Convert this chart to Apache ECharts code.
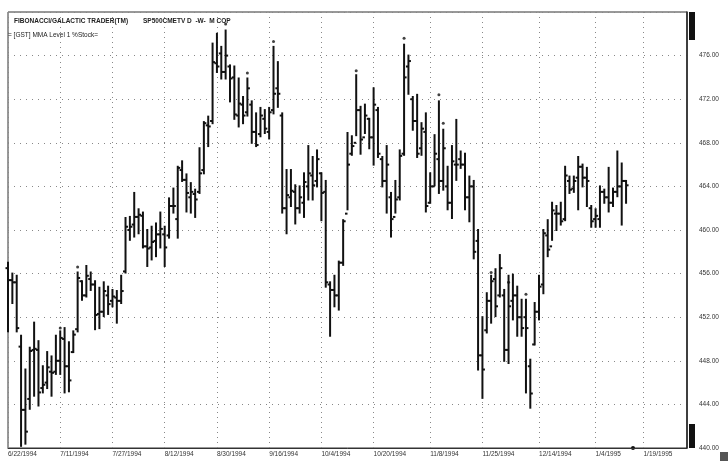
<!DOCTYPE html>
<html>
<head>
<meta charset="utf-8">
<script src="https://cdn.jsdelivr.net/npm/echarts@6.0.0/dist/echarts.min.js"></script>
<style>
  html, body { margin: 0; padding: 0; background: #fff; }
  #chart { width: 728px; height: 461px; }
</style>
</head>
<body>
<div id="chart"></div>
<script>
// Daily S&P 500 bars, 6/22/1994 onwards (trading days only)
const startDay = [1994, 5, 22];
const holidays = ['1994-07-04', '1994-09-05', '1994-11-24', '1994-12-26', '1995-01-02'];
const axisDays = 157;

const tickLabels = ['6/22/1994', '7/11/1994', '7/27/1994', '8/12/1994', '8/30/1994', '9/16/1994',
  '10/4/1994', '10/20/1994', '11/8/1994', '11/25/1994', '12/14/1994', '1/4/1995', '1/19/1995'];

const opens = [
  456.5, 455.4, 455.2, 449.3, 443.5, 444.5, 449.0, 449.0, 445.5, 446.0,
  447.0, 447.0, 448.0, 450.0, 447.5, 448.8, 450.9, 455.3, 454.0, 455.5,
  455.0, 452.3, 452.5, 454.0, 453.5, 453.8, 453.5, 456.2, 460.0, 460.5,
  461.2, 461.3, 458.5, 458.4, 459.0, 459.6, 459.6, 459.5, 462.2, 461.0,
  465.5, 464.6, 463.0, 463.3, 463.5, 465.5, 469.6, 470.0, 475.3, 476.2,
  474.5, 475.0, 474.0, 470.5, 471.5, 470.8, 471.5, 469.0, 468.8, 470.2,
  469.0, 471.0, 473.0, 470.5, 462.0, 463.0, 463.5, 462.0, 462.5, 464.0,
  465.0, 464.5, 465.2, 463.5, 455.0, 454.5, 454.0, 457.0, 461.5, 467.0,
  468.0, 471.0, 468.5, 470.2, 468.5, 471.0, 466.5, 464.5, 463.0, 461.2,
  463.0, 467.0, 475.0, 472.0, 470.0, 467.5, 469.0, 462.5, 464.0, 466.5,
  464.5, 464.0, 462.5, 466.0, 466.5, 466.0, 463.0, 464.0, 459.0, 448.5,
  450.8, 453.5, 455.5, 454.0, 454.0, 449.0, 453.5, 454.0, 452.0, 452.0,
  447.5, 449.5, 452.5, 455.0, 459.5, 458.5, 461.5, 461.5, 461.0, 464.5,
  463.8, 464.8, 465.8, 464.8, 462.0, 461.0, 461.0, 463.5, 463.0, 462.5,
  463.5, 464.0, 464.5
];
const highs = [
  457.0, 456.0, 455.8, 450.3, 447.2, 449.2, 451.5, 449.8, 447.5, 448.8,
  448.4, 450.3, 450.7, 451.0, 449.7, 450.7, 456.1, 455.3, 456.7, 456.1,
  455.3, 454.7, 455.2, 454.8, 454.5, 454.4, 455.8, 461.1, 461.2, 463.4,
  461.9, 461.6, 460.0, 460.3, 460.6, 461.6, 460.3, 462.9, 463.8, 465.8,
  466.3, 465.1, 464.3, 463.7, 467.5, 469.9, 470.4, 477.1, 478.0, 476.8,
  478.3, 475.1, 475.0, 473.9, 472.2, 473.9, 471.8, 470.7, 471.2, 471.0,
  471.2, 476.8, 475.4, 470.7, 465.5, 465.5, 464.1, 464.0, 465.2, 467.7,
  466.7, 467.3, 465.2, 464.5, 455.2, 455.8, 457.1, 460.9, 468.9, 468.6,
  474.2, 471.3, 471.5, 470.2, 473.0, 471.2, 466.7, 467.7, 463.4, 464.5,
  467.3, 477.0, 476.0, 472.2, 472.4, 469.8, 470.7, 465.2, 468.7, 471.8,
  469.2, 465.8, 467.7, 470.1, 467.2, 467.0, 464.9, 464.5, 460.0, 452.0,
  454.2, 455.8, 456.4, 457.7, 454.5, 455.8, 455.9, 454.8, 453.6, 453.6,
  448.1, 453.3, 455.8, 460.0, 460.9, 462.5, 462.2, 462.5, 465.8, 464.9,
  464.9, 466.7, 466.0, 465.7, 462.2, 461.9, 464.0, 463.7, 465.7, 463.8,
  467.2, 466.1, 464.5
];
const lows = [
  450.7, 453.3, 450.7, 440.2, 440.4, 443.6, 444.8, 443.9, 445.1, 445.5,
  444.8, 446.8, 446.8, 445.1, 445.2, 448.8, 450.7, 453.6, 453.9, 454.5,
  450.9, 451.0, 452.1, 452.3, 453.0, 451.5, 453.3, 456.1, 459.1, 459.4,
  459.7, 458.4, 456.7, 457.3, 457.6, 458.4, 456.7, 459.3, 461.6, 459.3,
  464.5, 461.7, 461.6, 461.2, 463.4, 465.2, 467.7, 469.8, 474.5, 473.9,
  473.9, 471.8, 470.2, 469.5, 469.8, 470.5, 468.0, 467.7, 468.6, 468.9,
  468.4, 470.7, 471.3, 461.6, 459.7, 462.2, 460.6, 461.6, 461.2, 462.8,
  462.8, 464.0, 460.9, 454.8, 450.3, 453.0, 452.7, 456.8, 461.9, 466.9,
  468.7, 467.0, 468.9, 467.5, 466.0, 466.7, 464.0, 461.6, 459.4, 461.6,
  462.8, 466.9, 472.5, 469.2, 466.7, 466.9, 461.7, 462.5, 464.1, 463.4,
  463.7, 461.9, 461.1, 464.6, 465.7, 461.9, 460.8, 457.4, 447.2, 444.6,
  450.6, 451.5, 452.1, 453.9, 448.0, 447.8, 451.8, 450.3, 450.3, 445.1,
  443.7, 449.5, 451.8, 454.2, 457.6, 459.1, 460.0, 460.5, 460.9, 463.4,
  463.5, 461.9, 464.0, 462.2, 460.3, 460.3, 460.3, 462.5, 461.7, 462.2,
  463.1, 460.5, 462.5
];
const closes = [
  455.4, 455.2, 451.0, 443.5, 441.5, 448.9, 449.1, 445.1, 445.8, 447.4,
  446.9, 448.0, 450.1, 447.5, 446.2, 450.4, 455.6, 454.0, 455.8, 455.0,
  452.2, 452.5, 454.4, 453.2, 453.9, 453.5, 454.4, 460.3, 460.3, 461.2,
  461.4, 458.5, 458.3, 458.9, 459.6, 460.1, 458.4, 462.2, 462.2, 465.7,
  464.6, 463.4, 463.5, 462.8, 465.2, 469.8, 469.5, 475.4, 475.0, 474.5,
  476.0, 473.9, 470.6, 471.6, 470.5, 473.0, 469.0, 467.8, 470.5, 469.3,
  470.8, 472.5, 472.5, 462.0, 463.2, 463.6, 462.0, 463.0, 464.4, 465.2,
  464.1, 466.5, 463.4, 455.2, 454.5, 454.0, 457.0, 460.8, 466.0, 467.7,
  471.0, 468.3, 470.5, 468.5, 471.5, 467.0, 464.5, 466.0, 461.0, 462.8,
  466.8, 474.0, 475.5, 470.0, 467.0, 469.3, 462.2, 464.0, 467.0, 464.5,
  467.5, 462.5, 466.3, 466.0, 466.0, 463.0, 464.0, 458.0, 448.5, 447.2,
  453.5, 455.3, 453.0, 456.5, 449.0, 453.0, 454.0, 452.0, 451.0, 451.0,
  445.0, 452.5, 454.8, 459.7, 458.2, 461.8, 461.5, 460.8, 465.0, 463.7,
  464.5, 465.8, 464.8, 464.5, 460.8, 461.3, 463.5, 463.0, 462.5, 463.5,
  464.0, 464.5, 464.1
];

// small dots printed above some bars: [bar index, price]
const markIdx = [12, 16, 50, 55, 61, 80, 91, 99, 100, 111, 115, 119];
const markVal = [451.0, 456.6, 478.9, 474.4, 477.3, 474.6, 477.6, 472.4, 469.8, 456.1, 455.2, 454.1];

// build the trading-day calendar for the category axis
const dates = [];
const d = new Date(Date.UTC(startDay[0], startDay[1], startDay[2]));
while (dates.length < axisDays) {
  const dow = d.getUTCDay();
  const iso = d.toISOString().slice(0, 10);
  if (dow !== 0 && dow !== 6 && !holidays.includes(iso)) {
    dates.push((d.getUTCMonth() + 1) + '/' + d.getUTCDate() + '/' + d.getUTCFullYear());
  }
  d.setUTCDate(d.getUTCDate() + 1);
}

const bars = opens.map((o, i) => [i, o, highs[i], lows[i], closes[i]]);
const marks = markIdx.map((i, k) => [i, markVal[k]]);
const showTick = (index, value) => tickLabels.includes(value);

function renderBar(params, api) {
  const i = api.value(0);
  const pO = api.coord([i, api.value(1)]);
  const pH = api.coord([i, api.value(2)]);
  const pL = api.coord([i, api.value(3)]);
  const pC = api.coord([i, api.value(4)]);
  const st = { stroke: '#111', lineWidth: 2 };
  return {
    type: 'group',
    children: [
      { type: 'line', shape: { x1: pH[0], y1: pH[1] - 1, x2: pL[0], y2: pL[1] + 1 }, style: st },
      { type: 'line', shape: { x1: pO[0] - 2.5, y1: pO[1], x2: pO[0], y2: pO[1] }, style: st },
      { type: 'line', shape: { x1: pC[0], y1: pC[1], x2: pC[0] + 2.5, y2: pC[1] }, style: st }
    ]
  };
}

const chart = echarts.init(document.getElementById('chart'));
const font = 'Liberation Sans';

chart.setOption({
  backgroundColor: '#fff',
  animation: false,
  textStyle: { fontFamily: font },
  title: [
    { text: 'FIBONACCI/GALACTIC TRADER(TM)', left: 9, top: 13,
      textStyle: { fontSize: 6.5, fontWeight: 'bold', color: '#222' } },
    { text: 'SP500CMETV D  -W-  M COP', left: 138, top: 13,
      textStyle: { fontSize: 6.5, fontWeight: 'bold', color: '#222' } },
    { text: '= [GST] MMA Level 1 %Stock=', left: 3, top: 27,
      textStyle: { fontSize: 6.5, fontWeight: 'normal', color: '#222' } }
  ],
  grid: { left: 8, right: 41, top: 12, bottom: 13, show: true, borderColor: '#333', borderWidth: 1 },
  xAxis: {
    type: 'category',
    data: dates,
    boundaryGap: false,
    axisLine: { lineStyle: { color: '#333' } },
    axisTick: { show: false },
    axisLabel: {
      interval: showTick, align: 'left', margin: 3, fontSize: 6.5, color: '#333'
    },
    splitLine: {
      show: true, interval: showTick,
      lineStyle: { color: '#888', width: 1, type: [1, 4] }
    }
  },
  yAxis: {
    type: 'value',
    position: 'right',
    min: 440,
    max: 480,
    interval: 4,
    axisLine: { show: true, lineStyle: { color: '#222', width: 1.5 } },
    axisTick: { show: false },
    axisLabel: {
      showMaxLabel: false, margin: 12, fontSize: 6.5, color: '#333',
      formatter: v => v.toFixed(2)
    },
    splitLine: { lineStyle: { color: '#888', width: 1, type: [1, 5] } }
  },
  graphic: [
    { type: 'rect', shape: { x: 689, y: 12, width: 6, height: 28 }, style: { fill: '#111' } },
    { type: 'rect', shape: { x: 689, y: 424, width: 6, height: 24 }, style: { fill: '#111' } },
    { type: 'rect', shape: { x: 720, y: 452, width: 8, height: 9 }, style: { fill: '#555' } },
    { type: 'circle', shape: { cx: 633, cy: 448, r: 2 }, style: { fill: '#111' } }
  ],
  series: [
    {
      name: 'SP500',
      type: 'custom',
      renderItem: renderBar,
      encode: { x: 0, y: [1, 2, 3, 4] },
      data: bars
    },
    {
      name: 'marks',
      type: 'scatter',
      symbolSize: 3,
      itemStyle: { color: '#111' },
      data: marks
    }
  ]
});
</script>
</body>
</html>
